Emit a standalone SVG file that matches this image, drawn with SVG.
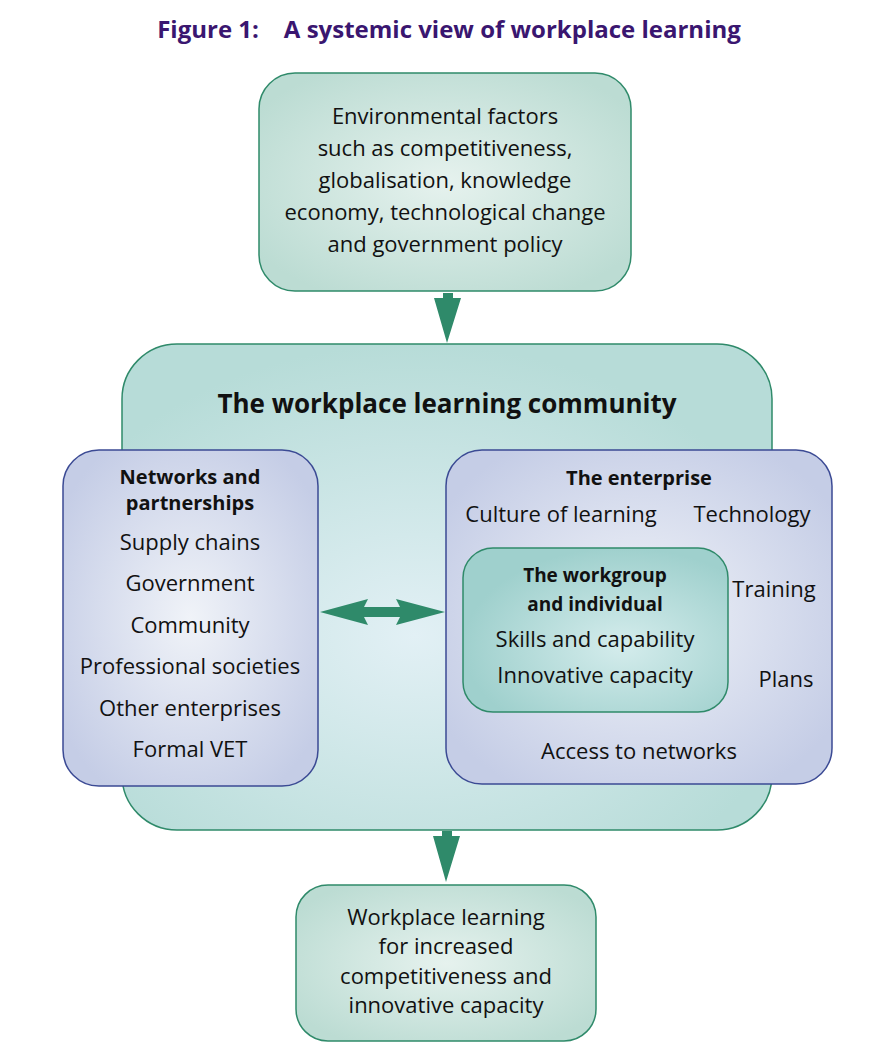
<svg xmlns="http://www.w3.org/2000/svg" width="890" height="1064" viewBox="0 0 890 1064">
<defs>
<radialGradient id="g1" cx="0.5" cy="0.5" r="0.6"><stop offset="0" stop-color="#e6f2ee"/><stop offset="1" stop-color="#bcdcd3"/></radialGradient>
<radialGradient id="g2" cx="0.45" cy="0.6" r="0.6"><stop offset="0" stop-color="#e2f0f5"/><stop offset="1" stop-color="#b7dcd8"/></radialGradient>
<radialGradient id="g3" cx="0.5" cy="0.5" r="0.6"><stop offset="0" stop-color="#f0f3f8"/><stop offset="1" stop-color="#c5cde6"/></radialGradient>
<radialGradient id="g4" cx="0.6" cy="0.6" r="0.6"><stop offset="0" stop-color="#d4ecec"/><stop offset="1" stop-color="#9fd0cd"/></radialGradient>
</defs>
<style>
text{font-family:"Open Sans","Liberation Sans",sans-serif;font-size:22px;fill:#111;text-anchor:middle}
.b{font-weight:bold}
.h{font-weight:bold;font-size:20px}
.t{fill:#3a1670;font-size:24px;font-weight:bold}
.gr{stroke:#2f8a6a;stroke-width:1.5}
.bl{stroke:#3b4a94;stroke-width:1.5}
.ar{fill:#2f8a6a}
</style>
<text class="t" x="449" y="38" xml:space="preserve">Figure 1:    A systemic view of workplace learning</text>
<g id="env"><rect class="gr" x="259" y="73" width="372" height="218" rx="36" fill="url(#g1)"/>
<text x="445" y="124">Environmental factors</text><text x="445" y="156">such as competitiveness,</text><text x="445" y="188">globalisation, knowledge</text><text x="445" y="220">economy, technological change</text><text x="445" y="252">and government policy</text></g>
<g id="community"><rect class="gr" x="122" y="344" width="650" height="486" rx="55" fill="url(#g2)"/>
<text class="b" x="447" y="413" style="font-size:26px">The workplace learning community</text></g>
<g id="networks"><rect class="bl" x="63" y="450" width="255" height="336" rx="36" fill="url(#g3)"/>
<text class="h" x="190" y="484">Networks and</text><text class="h" x="190" y="510">partnerships</text>
<text x="190" y="550">Supply chains</text><text x="190" y="591">Government</text><text x="190" y="633">Community</text><text x="190" y="674">Professional societies</text><text x="190" y="716">Other enterprises</text><text x="190" y="757">Formal VET</text></g>
<g id="enterprise"><rect class="bl" x="446" y="450" width="386" height="334" rx="36" fill="url(#g3)"/>
<text class="h" x="639" y="485">The enterprise</text>
<text x="561" y="522">Culture of learning</text><text x="752" y="522">Technology</text>
<text x="774" y="597">Training</text><text x="786" y="687">Plans</text>
<text x="639" y="759">Access to networks</text></g>
<g id="workgroup"><rect class="gr" x="463" y="548" width="265" height="164" rx="30" fill="url(#g4)"/>
<text class="b" x="595" y="582" style="font-size:19px">The workgroup</text><text class="b" x="595" y="611" style="font-size:19px">and individual</text>
<text x="595" y="647">Skills and capability</text><text x="595" y="683">Innovative capacity</text></g>
<g id="outcome"><rect class="gr" x="296" y="885" width="300" height="156" rx="32" fill="url(#g1)"/>
<text x="446" y="925">Workplace learning</text><text x="446" y="954">for increased</text><text x="446" y="984">competitiveness and</text><text x="446" y="1013">innovative capacity</text></g>
<g id="connectors">
<path class="ar" d="M443,293 H453 V298 H461 L447,343 L434,298 H443 Z"/>
<path class="ar" d="M442,831 H452 V836 H460 L446,882 L433,836 H442 Z"/>
<path class="ar" d="M320,612 L368,599 L364,607 H400 L396,599 L445,612 L396,625 L400,617 H364 L368,625 Z"/>
</g>
</svg>
